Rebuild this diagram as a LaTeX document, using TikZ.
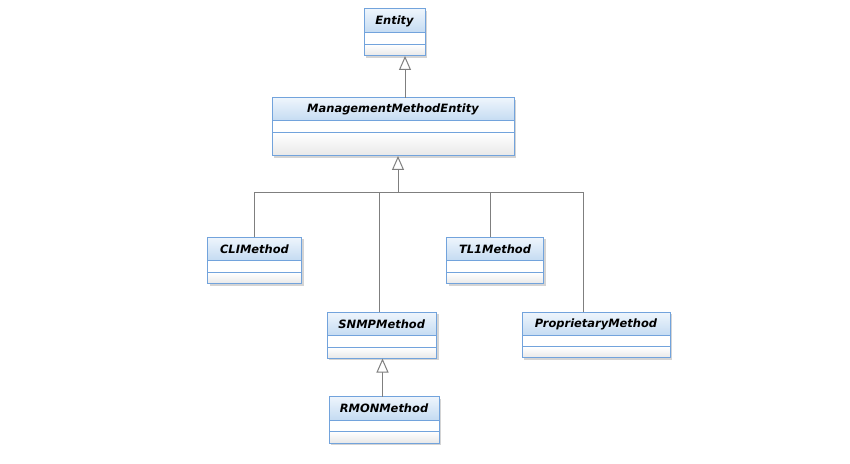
\documentclass[tikz,border=0pt]{standalone}
\usepackage{fontspec}
\setmainfont{DejaVu Sans}
\usetikzlibrary{arrows.meta}
\definecolor{bordc}{HTML}{72A3DC}
\definecolor{titletop}{HTML}{EEF5FC}
\definecolor{titlebot}{HTML}{C4DBF2}
\definecolor{opsbot}{HTML}{E8E8E8}
\definecolor{linec}{HTML}{7F7F7F}
\definecolor{shadc}{HTML}{D4D4D4}
\tikzset{
  x=1bp, y=-1bp,
  clsframe/.style={draw=bordc, line width=1bp, inner sep=0pt, outer sep=0pt},
  clstitle/.style={font=\bfseries\itshape\fontsize{11.5}{13}\selectfont, inner sep=0pt},
  inh/.style={draw=linec, line width=1bp, -{Triangle[length=14bp,width=12bp,fill=white,line width=1bp]}},
  tree/.style={draw=linec, line width=1bp},
}
\newcommand\umlclass[8]{%
  % #1 name, #2 x1, #3 y1, #4 x2, #5 y2, #6 s1, #7 s2, #8 label
  \fill[shadc] (#2+2,#3+2) rectangle (#4+2,#5+2);
  \shade[top color=titletop, bottom color=titlebot] (#2,#3) rectangle (#4,#6);
  \fill[white] (#2,#6) rectangle (#4,#7);
  \shade[top color=white, bottom color=opsbot] (#2,#7) rectangle (#4,#5);
  \draw[bordc, line width=1bp] (#2,#6) -- (#4,#6) (#2,#7) -- (#4,#7);
  \node[clsframe, minimum width={(#4-#2)*1bp}, minimum height={(#5-#3)*1bp}] (#1) at ({(#2+#4)/2},{(#3+#5)/2}) {};
  \node[clstitle] (#1-title) at ({(#2+#4)/2},{(#3+#6)/2}) {#8};
}
\begin{document}
\begin{tikzpicture}
\useasboundingbox[fill=white] (0,0) rectangle (850,464);
\umlclass{entity}{364}{9}{425}{56}{33}{44.5}{Entity}
\umlclass{mme}{272}{98}{514}{156}{121}{132.5}{ManagementMethodEntity}
\umlclass{cli}{207.5}{237.5}{301.5}{284}{260.5}{272.5}{CLIMethod}
\umlclass{tl1}{446.5}{237.5}{543.5}{284}{260.5}{272.5}{TL1Method}
\umlclass{snmp}{327}{312.5}{436.5}{358.5}{336}{347.5}{SNMPMethod}
\umlclass{prop}{522}{312.5}{670}{358}{335.5}{347}{ProprietaryMethod}
\umlclass{rmon}{329}{396.5}{439}{443}{420}{431.5}{RMONMethod}
% inheritance Entity <- MME
\coordinate (jEnt) at (405,0);
\draw[inh] (mme.north -| jEnt) -- (entity.south -| jEnt);
% tree to MME
\coordinate (hub) at (398,193);
\draw[tree] (cli.north -| 254,0) |- (hub);
\draw[tree] (snmp.north -| 379.5,0) -- (379.5,193);
\draw[tree] (tl1.north -| 490.5,0) -- (490.5,193);
\draw[tree] (prop.north -| 583.5,0) |- (hub);
\draw[inh] (hub) -- (mme.south -| hub);
% SNMP <- RMON
\coordinate (jSn) at (382.5,0);
\draw[inh] (rmon.north -| jSn) -- (snmp.south -| jSn);
\end{tikzpicture}
\end{document}
